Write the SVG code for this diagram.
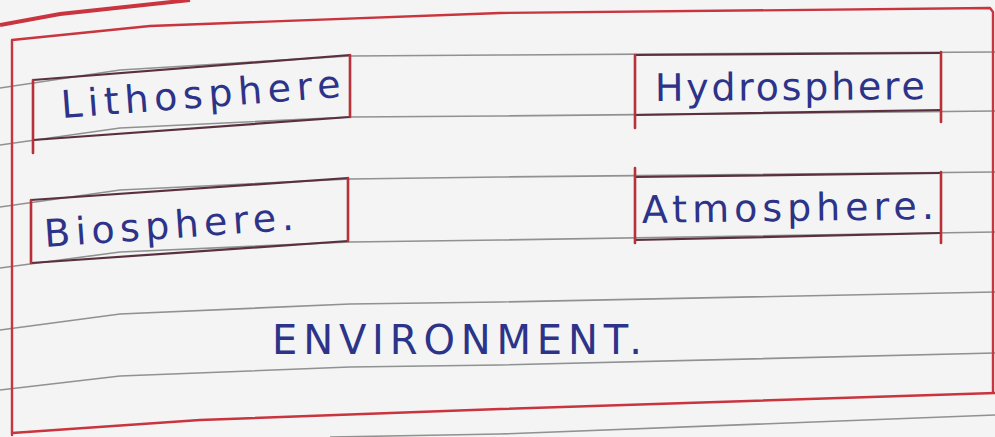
<svg xmlns="http://www.w3.org/2000/svg" width="995" height="437" viewBox="0 0 995 437">
  <style>
    .rule { fill: none; stroke: #8f9290; stroke-width: 1.6; }
    .red { fill: none; stroke: #c9343f; stroke-width: 2.4; stroke-linecap: round; stroke-linejoin: round; }
    .boxedge { fill: none; stroke: #b8303a; stroke-width: 2.6; stroke-linecap: round; }
    .boxdark { fill: none; stroke: #5a3040; stroke-width: 2.2; stroke-linecap: round; }
    .ink { fill: #2c3388; font-family: "DejaVu Sans", "Liberation Sans", sans-serif; }
    .label { font-size: 38px; }
    .title { font-size: 40px; }
  </style>
  <rect x="0" y="0" width="995" height="437" fill="#f3f4f3"/>

  <!-- ruled lines -->
  <g id="ruling">
    <polyline class="rule" points="0,88 120,70 350,56 500,55 995,52"/>
    <polyline class="rule" points="0,145 120,128 350,117 500,116 995,111"/>
    <polyline class="rule" points="0,207 120,190 350,179 500,177 995,172"/>
    <polyline class="rule" points="0,268 120,252 350,242 500,240 995,232"/>
    <polyline class="rule" points="0,330 120,314 350,304 500,302 995,292"/>
    <polyline class="rule" points="0,390 120,376 350,367 500,365 995,353"/>
    <polyline class="rule" points="330,437 500,434 995,415"/>
  </g>

  <!-- outer red frame and margin -->
  <g id="frame">
    <path d="M0,25 L60,14 L190,0" fill="none" stroke="#c9343f" stroke-width="4"/>
    <polyline class="red" points="12,435 12,40 150,26 500,13 990,8 993,12 993,392"/>
    <polyline class="red" points="12,433 200,420 500,409 995,393"/>
  </g>

  <g id="connectors"/>

  <g id="lithosphere">
    <line class="boxdark" x1="33" y1="80" x2="350" y2="55"/>
    <line class="boxdark" x1="33" y1="140" x2="350" y2="117"/>
    <line class="boxedge" x1="33" y1="80" x2="33" y2="153"/>
    <line class="boxedge" x1="350" y1="55" x2="350" y2="117"/>
    <text class="ink label" x="62" y="118" textLength="280" lengthAdjust="spacing" transform="rotate(-4.3 62 118)">Lithosphere</text>
  </g>

  <g id="hydrosphere">
    <line class="boxdark" x1="635" y1="55" x2="941" y2="53"/>
    <line class="boxdark" x1="635" y1="115" x2="941" y2="110"/>
    <line class="boxedge" x1="635" y1="55" x2="635" y2="128"/>
    <line class="boxedge" x1="941" y1="52" x2="941" y2="122"/>
    <text class="ink label" x="655" y="101" textLength="270" lengthAdjust="spacing" transform="rotate(-0.4 655 101)">Hydrosphere</text>
  </g>

  <g id="biosphere">
    <line class="boxdark" x1="31" y1="200" x2="348" y2="178"/>
    <line class="boxdark" x1="31" y1="263" x2="348" y2="241"/>
    <line class="boxedge" x1="31" y1="200" x2="31" y2="263"/>
    <line class="boxedge" x1="348" y1="178" x2="348" y2="241"/>
    <text class="ink label" x="45" y="247" textLength="250" lengthAdjust="spacing" transform="rotate(-4 45 247)">Biosphere.</text>
  </g>

  <g id="atmosphere">
    <line class="boxdark" x1="635" y1="177" x2="941" y2="173"/>
    <line class="boxdark" x1="635" y1="240" x2="941" y2="233"/>
    <line class="boxedge" x1="635" y1="168" x2="635" y2="243"/>
    <line class="boxedge" x1="941" y1="172" x2="941" y2="243"/>
    <text class="ink label" x="642" y="223" textLength="292" lengthAdjust="spacing" transform="rotate(-0.8 642 223)">Atmosphere.</text>
  </g>

  <g id="environment">
    <text class="ink title" x="272" y="354" textLength="370" lengthAdjust="spacing">ENVIRONMENT.</text>
  </g>
</svg>
